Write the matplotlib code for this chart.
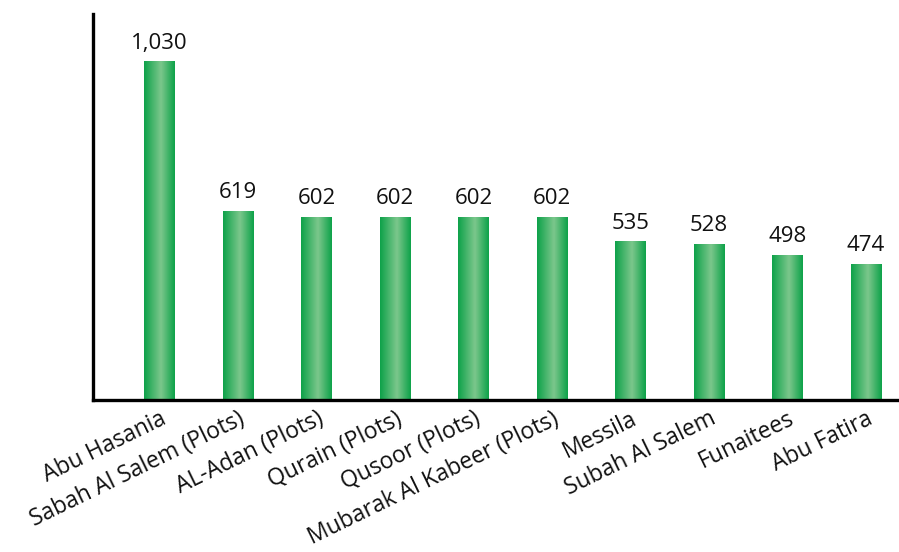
import numpy as np
import matplotlib.pyplot as plt
from matplotlib.colors import LinearSegmentedColormap

plt.rcParams['font.family'] = ['Open Sans', 'DejaVu Sans']

areas = ["Abu Hasania", "Sabah Al Salem (Plots)", "AL-Adan (Plots)", "Qurain (Plots)",
         "Qusoor (Plots)", "Mubarak Al Kabeer (Plots)", "Messila", "Subah Al Salem",
         "Funaitees", "Abu Fatira"]
counts = [1030, 619, 602, 602, 602, 602, 535, 528, 498, 474]

# dark green at the edges, lighter stripe down the middle of each bar
green = LinearSegmentedColormap.from_list(
    "bar_green", [(0.0, "#0ea24a"), (0.55, "#7cc78c"), (1.0, "#0ea24a")])
grad = np.linspace(0, 1, 64).reshape(1, -1)

fig = plt.figure(figsize=(8.99, 5.52), dpi=100)
ax = fig.add_axes([93 / 899, 152 / 552, 806 / 899, 386 / 552])

width = 0.39
base = 100
x = np.arange(len(areas))
for xi, v in zip(x, counts):
    ax.imshow(grad, cmap=green, aspect="auto", interpolation="bicubic",
              extent=(xi - width / 2, xi + width / 2, base, v), zorder=2)
    ax.annotate(f"{v:,}", (xi, v), xytext=(0, 6), textcoords="offset points",
                ha="center", va="bottom", fontsize=16, color="#111111")

ax.set_xlim(-0.85, 9.42)
ax.set_ylim(base, 1162)

ax.set_xticks(x)
ax.set_xticklabels(areas, rotation=26, ha="right", rotation_mode="anchor",
                   fontsize=16.5, color="#111111")
ax.tick_params(axis="x", length=0, pad=5)
ax.set_yticks([])

for s in ["top", "right"]:
    ax.spines[s].set_visible(False)
for s in ["left", "bottom"]:
    ax.spines[s].set_linewidth(2.4)
    ax.spines[s].set_color("black")

fig.savefig("out.png", dpi=100)
